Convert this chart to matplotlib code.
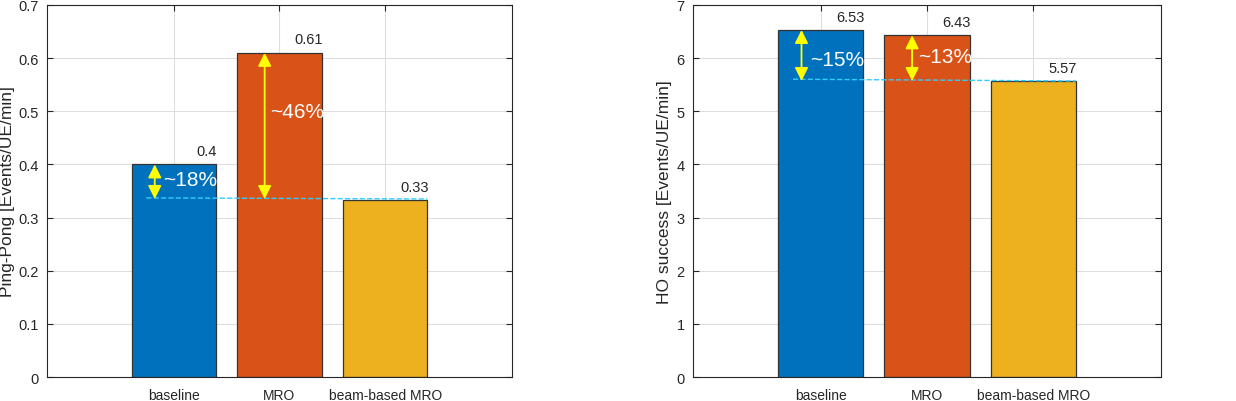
import matplotlib
matplotlib.use("Agg")
import matplotlib.pyplot as plt

plt.rcParams['font.family'] = ['Liberation Sans', 'DejaVu Sans']

categories = ["baseline", "MRO", "beam-based MRO"]
pingpong = [0.4, 0.61, 0.333]
pingpong_labels = ["0.4", "0.61", "0.33"]
ho_success = [6.53, 6.43, 5.57]
ho_labels = ["6.53", "6.43", "5.57"]

pp_gains = ["~18%", "~46%"]
ho_gains = ["~15%", "~13%"]

COLORS = ["#0072BD", "#D95319", "#EDB120"]
TXT = "#262626"


def style_axes(ax, ymax, ystep):
    ax.set_xlim(-0.2, 4.2)
    ax.set_ylim(0, ymax)
    ax.set_xticks([1, 2, 3])
    ax.set_xticklabels(categories, fontsize=10, color=TXT)
    n = int(round(ymax / ystep))
    ticks = [round(i * ystep, 3) for i in range(n + 1)]
    ax.set_yticks(ticks)
    ax.set_yticklabels([f"{t:g}" for t in ticks], fontsize=10.5, color=TXT)
    ax.tick_params(direction="in", top=True, right=True, length=4, width=0.8,
                   color="#262626")
    ax.tick_params(axis="x", pad=8)
    ax.tick_params(axis="y", pad=6)
    ax.grid(True, color="#dedede", lw=0.8)
    ax.set_axisbelow(True)
    for s in ax.spines.values():
        s.set_color("#262626")
        s.set_linewidth(0.8)


def draw_panel(ax, values, labels, gains, ylabel, ymax, ystep, ref, text_x, text_y, label_x):
    x = [1, 2, 3]
    ax.bar(x, values, width=0.8, color=COLORS, edgecolor="#333333", linewidth=0.9, zorder=2)
    for xi, v, lab in zip(x, values, labels):
        ax.text(xi + 0.41, v + ymax * 0.017, lab, ha="right", va="bottom",
                fontsize=10.5, color=TXT, zorder=4)

    # dashed reference line at beam-based MRO level
    ax.plot([0.74, 3.4], [ref * 1.006, ref], ls="--", color="#33ccff", lw=1.0, zorder=3)

    # yellow arrows showing the gain
    for xa, v, g, tx, ty in zip([0.82, 1.86], values[:2], gains, text_x, text_y):
        ax.annotate("", xy=(xa, v), xytext=(xa, ref),
                    arrowprops=dict(arrowstyle="<|-|>,head_length=0.8,head_width=0.4",
                                    color="#ffff00", lw=1.3,
                                    mutation_scale=10, shrinkA=0, shrinkB=0),
                    zorder=4)
        ax.text(tx, ty, g, ha="left", va="center", fontsize=15,
                color="white", zorder=4)

    ax.set_ylabel(ylabel, fontsize=12.5, color=TXT)
    style_axes(ax, ymax, ystep)
    ax.yaxis.set_label_coords(label_x, 0.5)


def main():
    fig = plt.figure(figsize=(12.36, 4.02), dpi=100)
    ax1 = fig.add_axes([0.038, 0.0597, 0.3762, 0.9254])
    ax2 = fig.add_axes([0.5607, 0.0597, 0.3786, 0.9254])

    draw_panel(ax1, pingpong, pingpong_labels, pp_gains,
               "Ping-Pong [Events/UE/min]", 0.7, 0.1, 0.335,
               [0.9, 1.91], [0.372, 0.5], -0.069)
    draw_panel(ax2, ho_success, ho_labels, ho_gains,
               "HO success [Events/UE/min]", 7, 1, 5.57,
               [0.9, 1.92], [5.97, 6.03], -0.045)

    fig.savefig("out.png", dpi=100)
    plt.close(fig)


if __name__ == "__main__":
    main()
